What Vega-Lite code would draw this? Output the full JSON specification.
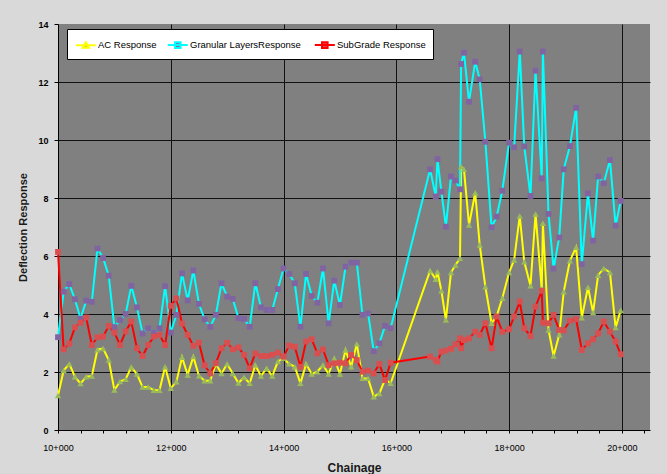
{
  "$schema": "https://vega.github.io/schema/vega-lite/v6.json",
  "width": 592,
  "height": 406,
  "autosize": {"type": "none"},
  "padding": {"left": 58, "top": 24, "right": 17, "bottom": 44},
  "background": "#d9d9d9",
  "config": {"view": {"fill": "#808080", "stroke": null}, "font": "Liberation Sans"},
  "data": {"values": [
    {"ch":10000,"ac":1.19,"gl":3.20,"sg":6.14},
    {"ch":10100,"ac":2.05,"gl":4.77,"sg":2.78},
    {"ch":10200,"ac":2.28,"gl":5.03,"sg":2.98},
    {"ch":10300,"ac":1.84,"gl":4.51,"sg":3.54},
    {"ch":10400,"ac":1.60,"gl":3.84,"sg":3.70},
    {"ch":10500,"ac":1.84,"gl":4.46,"sg":3.88},
    {"ch":10600,"ac":1.86,"gl":4.42,"sg":2.93},
    {"ch":10700,"ac":2.77,"gl":6.26,"sg":3.20},
    {"ch":10800,"ac":2.81,"gl":5.93,"sg":3.22},
    {"ch":10900,"ac":2.41,"gl":5.32,"sg":3.59},
    {"ch":11000,"ac":1.38,"gl":3.55,"sg":3.36},
    {"ch":11100,"ac":1.67,"gl":3.79,"sg":2.93},
    {"ch":11200,"ac":1.75,"gl":4.00,"sg":3.40},
    {"ch":11300,"ac":2.17,"gl":4.97,"sg":3.74},
    {"ch":11400,"ac":1.93,"gl":4.23,"sg":2.82},
    {"ch":11500,"ac":1.48,"gl":3.33,"sg":2.55},
    {"ch":11600,"ac":1.48,"gl":3.51,"sg":2.93},
    {"ch":11700,"ac":1.37,"gl":3.35,"sg":3.22},
    {"ch":11800,"ac":1.37,"gl":3.51,"sg":3.28},
    {"ch":11900,"ac":2.18,"gl":4.96,"sg":2.93},
    {"ch":12000,"ac":1.44,"gl":3.36,"sg":4.28},
    {"ch":12100,"ac":1.66,"gl":3.97,"sg":4.54},
    {"ch":12200,"ac":2.51,"gl":5.40,"sg":3.67},
    {"ch":12300,"ac":1.90,"gl":4.47,"sg":3.28},
    {"ch":12400,"ac":2.53,"gl":5.50,"sg":2.90},
    {"ch":12500,"ac":1.87,"gl":4.35,"sg":3.01},
    {"ch":12600,"ac":1.70,"gl":3.82,"sg":2.23},
    {"ch":12700,"ac":1.70,"gl":3.56,"sg":1.95},
    {"ch":12800,"ac":2.28,"gl":3.97,"sg":2.31},
    {"ch":12900,"ac":1.95,"gl":5.06,"sg":2.82},
    {"ch":13000,"ac":2.28,"gl":4.60,"sg":3.01},
    {"ch":13100,"ac":1.95,"gl":4.52,"sg":2.78},
    {"ch":13200,"ac":1.62,"gl":3.86,"sg":2.85},
    {"ch":13300,"ac":1.82,"gl":3.83,"sg":2.59},
    {"ch":13400,"ac":1.61,"gl":3.56,"sg":2.13},
    {"ch":13500,"ac":2.24,"gl":5.06,"sg":2.64},
    {"ch":13600,"ac":1.86,"gl":4.23,"sg":2.55},
    {"ch":13700,"ac":2.13,"gl":4.14,"sg":2.55},
    {"ch":13800,"ac":1.86,"gl":4.14,"sg":2.59},
    {"ch":13900,"ac":2.36,"gl":4.86,"sg":2.67},
    {"ch":14000,"ac":2.47,"gl":5.57,"sg":2.53},
    {"ch":14100,"ac":2.28,"gl":5.38,"sg":2.91},
    {"ch":14200,"ac":2.18,"gl":5.06,"sg":2.87},
    {"ch":14300,"ac":1.61,"gl":3.56,"sg":2.18},
    {"ch":14400,"ac":2.28,"gl":5.38,"sg":3.05},
    {"ch":14500,"ac":1.93,"gl":4.62,"sg":3.13},
    {"ch":14600,"ac":2.01,"gl":4.39,"sg":2.64},
    {"ch":14700,"ac":2.24,"gl":5.57,"sg":2.78},
    {"ch":14800,"ac":1.93,"gl":3.68,"sg":2.24},
    {"ch":14900,"ac":2.47,"gl":5.15,"sg":2.30},
    {"ch":15000,"ac":1.93,"gl":4.31,"sg":2.32},
    {"ch":15100,"ac":2.76,"gl":5.63,"sg":2.30},
    {"ch":15200,"ac":2.18,"gl":5.77,"sg":2.59},
    {"ch":15300,"ac":2.97,"gl":5.77,"sg":2.41},
    {"ch":15400,"ac":1.78,"gl":3.97,"sg":2.01},
    {"ch":15500,"ac":1.78,"gl":4.02,"sg":2.05},
    {"ch":15600,"ac":1.15,"gl":2.72,"sg":1.95},
    {"ch":15700,"ac":1.26,"gl":2.99,"sg":2.28},
    {"ch":15800,"ac":1.74,"gl":3.59,"sg":1.72},
    {"ch":15900,"ac":1.61,"gl":3.51,"sg":2.32},
    {"ch":16600,"ac":5.49,"gl":8.99,"sg":2.53},
    {"ch":16700,"ac":5.20,"gl":8.05,"sg":2.42},
    {"ch":16730,"ac":5.46,"gl":9.34,"sg":2.36},
    {"ch":16800,"ac":4.80,"gl":8.22,"sg":2.70},
    {"ch":16880,"ac":3.79,"gl":7.01,"sg":2.74},
    {"ch":16970,"ac":5.43,"gl":8.74,"sg":2.80},
    {"ch":17050,"ac":5.69,"gl":8.60,"sg":2.95},
    {"ch":17130,"ac":5.92,"gl":8.30,"sg":3.16},
    {"ch":17150,"ac":9.08,"gl":12.62,"sg":2.82},
    {"ch":17200,"ac":8.99,"gl":13.01,"sg":3.10},
    {"ch":17290,"ac":7.07,"gl":11.32,"sg":3.16},
    {"ch":17400,"ac":8.18,"gl":12.70,"sg":3.39},
    {"ch":17480,"ac":6.38,"gl":12.09,"sg":3.28},
    {"ch":17580,"ac":4.94,"gl":9.94,"sg":3.68},
    {"ch":17690,"ac":3.68,"gl":6.99,"sg":2.82},
    {"ch":17780,"ac":3.93,"gl":7.36,"sg":3.91},
    {"ch":17880,"ac":4.54,"gl":8.25,"sg":3.39},
    {"ch":18000,"ac":5.43,"gl":9.91,"sg":3.47},
    {"ch":18090,"ac":5.86,"gl":9.75,"sg":3.91},
    {"ch":18190,"ac":7.38,"gl":13.05,"sg":4.43},
    {"ch":18270,"ac":5.80,"gl":9.78,"sg":3.51},
    {"ch":18380,"ac":4.97,"gl":8.07,"sg":3.24},
    {"ch":18470,"ac":7.45,"gl":12.39,"sg":4.25},
    {"ch":18580,"ac":4.85,"gl":8.68,"sg":4.80},
    {"ch":18600,"ac":7.13,"gl":13.05,"sg":3.70},
    {"ch":18700,"ac":3.45,"gl":7.45,"sg":3.68},
    {"ch":18790,"ac":2.55,"gl":5.57,"sg":3.97},
    {"ch":18890,"ac":3.28,"gl":6.64,"sg":3.45},
    {"ch":18970,"ac":4.77,"gl":8.99,"sg":3.43},
    {"ch":19080,"ac":5.84,"gl":9.79,"sg":3.77},
    {"ch":19190,"ac":6.30,"gl":11.11,"sg":3.82},
    {"ch":19290,"ac":3.87,"gl":5.72,"sg":2.76},
    {"ch":19400,"ac":4.92,"gl":8.16,"sg":2.99},
    {"ch":19490,"ac":4.05,"gl":6.53,"sg":3.13},
    {"ch":19580,"ac":5.34,"gl":8.74,"sg":3.33},
    {"ch":19680,"ac":5.57,"gl":8.51,"sg":3.74},
    {"ch":19790,"ac":5.43,"gl":9.31,"sg":3.39},
    {"ch":19890,"ac":3.53,"gl":7.05,"sg":3.05},
    {"ch":19980,"ac":4.13,"gl":7.90,"sg":2.61}
  ]},
  "transform": [{"fold": ["ac", "gl", "sg"], "as": ["series", "v"]}],
  "encoding": {
    "x": {
      "field": "ch", "type": "quantitative",
      "scale": {"domain": [10000, 20500], "nice": false, "zero": false},
      "axis": {
        "title": "Chainage",
        "values": [10000,10400,10800,11200,11600,12000,12400,12800,13200,13600,14000,14400,14800,15200,15600,16000,16400,16800,17200,17600,18000,18400,18800,19200,19600,20000,20400],
        "labelExpr": "datum.value % 2000 === 0 ? format(floor(datum.value/1000),'d') + '+000' : ''",
        "labelFlush": false, "labelOverlap": false,
        "grid": true,
        "gridColor": {"condition": {"test": "datum.value % 2000 === 0 && datum.value > 10000", "value": "#111111"}, "value": "transparent"},
        "gridWidth": 1,
        "domainColor": "#000000", "tickColor": "#000000", "tickSize": 3,
        "labelFontSize": 9, "labelColor": "#000000", "labelPadding": 10,
        "titleFontSize": 12, "titleFontWeight": "bold", "titleColor": "#1a1a1a", "titlePadding": 10
      }
    },
    "y": {
      "field": "v", "type": "quantitative",
      "scale": {"domain": [0, 14], "nice": false},
      "axis": {
        "title": "Deflection Response",
        "values": [0,2,4,6,8,10,12,14],
        "grid": true,
        "gridColor": {"condition": {"test": "datum.value > 0 && datum.value < 13", "value": "#111111"}, "value": "transparent"},
        "gridWidth": 1,
        "domainColor": "#000000", "tickColor": "#000000", "tickSize": 4,
        "labelFontSize": 9, "labelFontWeight": "bold", "labelColor": "#000000", "labelPadding": 6,
        "titleFontSize": 11, "titleFontWeight": "bold", "titleColor": "#1a1a1a", "titlePadding": 9
      }
    }
  },
  "layer": [
    {
      "mark": {"type": "line", "strokeWidth": 2},
      "encoding": {
        "stroke": {
          "field": "series", "type": "nominal",
          "scale": {"domain": ["ac", "gl", "sg"], "range": ["#ffff00", "#00ffff", "#ff0000"]},
          "legend": {
            "orient": "none", "legendX": 9, "legendY": 5, "direction": "horizontal", "title": null,
            "fillColor": "#ffffff", "strokeColor": "#000000", "padding": 7,
            "labelFontSize": 9.5, "labelColor": "#000000", "labelOffset": 6, "columnPadding": 6,
            "symbolSize": 256, "symbolStrokeWidth": 2,
            "labelExpr": "datum.value == 'ac' ? 'AC Response' : datum.value == 'gl' ? 'Granular  LayersResponse' : 'SubGrade Response'",
            "encode": {
              "symbols": {
                "update": {
                  "shape": {"signal": "datum.value == 'ac' ? 'M-0.9,0L1.6,0M-0.05,0.3L0.35,-0.38L0.75,0.3Z' : 'M-0.9,0L1.6,0M0,-0.35L0.7,-0.35L0.7,0.35L0,0.35Z'"},
                  "fill": {"signal": "datum.value == 'ac' ? '#9bbb59' : datum.value == 'gl' ? '#8064a2' : '#d94f4f'"},
                  "fillOpacity": {"value": 1},
                  "strokeWidth": {"value": 2}
                }
              }
            }
          }
        }
      }
    },
    {
      "transform": [{"filter": "datum.series == 'ac'"}],
      "mark": {"type": "point", "filled": true, "shape": "triangle-up", "size": 40, "color": "#9bbb59", "opacity": 1, "strokeWidth": 0}
    },
    {
      "transform": [{"filter": "datum.series == 'gl'"}],
      "mark": {"type": "point", "filled": true, "shape": "square", "size": 34, "color": "#8064a2", "opacity": 1, "strokeWidth": 0}
    },
    {
      "transform": [{"filter": "datum.series == 'sg'"}],
      "mark": {"type": "point", "filled": true, "shape": "square", "size": 34, "color": "#d94f4f", "opacity": 1, "strokeWidth": 0}
    }
  ]
}
